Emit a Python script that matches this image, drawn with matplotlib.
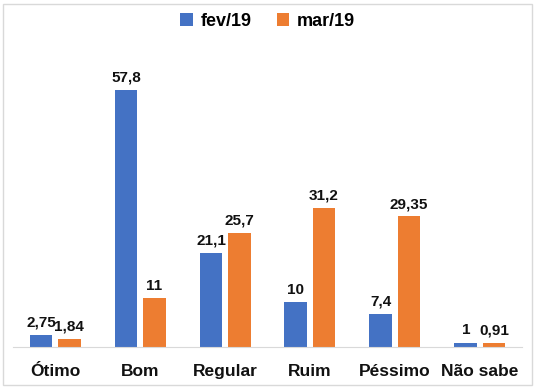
import matplotlib
matplotlib.use("Agg")
import matplotlib.pyplot as plt
import numpy as np
from matplotlib.patches import Rectangle

categories = ["Ótimo", "Bom", "Regular", "Ruim", "Péssimo", "Não sabe"]
fev = [2.75, 57.8, 21.1, 10, 7.4, 1]
mar = [1.84, 11, 25.7, 31.2, 29.35, 0.91]
fev_labels = ["2,75", "57,8", "21,1", "10", "7,4", "1"]
mar_labels = ["1,84", "11", "25,7", "31,2", "29,35", "0,91"]

BLUE = "#4472C4"
ORANGE = "#ED7D31"
plt.rcParams["font.family"] = ["Liberation Sans", "DejaVu Sans"]

fig = plt.figure(figsize=(5.35, 3.89), dpi=100)
ax = fig.add_axes([0.0234, 0.108, 0.9532, 0.738])

x = np.arange(len(categories))
w = 0.27
b1 = ax.bar(x - 0.165, fev, w, color=BLUE, label="fev/19")
b2 = ax.bar(x + 0.165, mar, w, color=ORANGE, label="mar/19")

# value labels above each bar
for bars, labels in [(b1, fev_labels), (b2, mar_labels)]:
    for bar, lab in zip(bars, labels):
        ax.text(bar.get_x() + bar.get_width() / 2, bar.get_height() + 1.2, lab,
                ha="center", va="bottom", fontsize=11, fontweight="bold", color="#111111")

ax.set_xlim(-0.5, len(categories) - 0.5)
ax.set_ylim(0, 64.5)
ax.set_xticks(x)
ax.set_xticklabels(categories, fontsize=12.5, fontweight="bold", color="#111111")
ax.tick_params(axis="x", length=0, pad=12)
ax.set_yticks([])
for side in ["top", "left", "right"]:
    ax.spines[side].set_visible(False)
ax.spines["bottom"].set_color("#D9D9D9")

fig.legend(handles=[b1, b2], loc="center", bbox_to_anchor=(0.5, 0.945), ncol=2,
           frameon=False, prop={"size": 13, "weight": "bold"},
           handlelength=0.7, handleheight=0.7, handletextpad=0.4, columnspacing=1.4)

fig.patches.append(Rectangle((0.006, 0.01), 0.988, 0.98, transform=fig.transFigure,
                             fill=False, edgecolor="#D9D9D9", linewidth=1))

fig.savefig("out.png", dpi=100)
